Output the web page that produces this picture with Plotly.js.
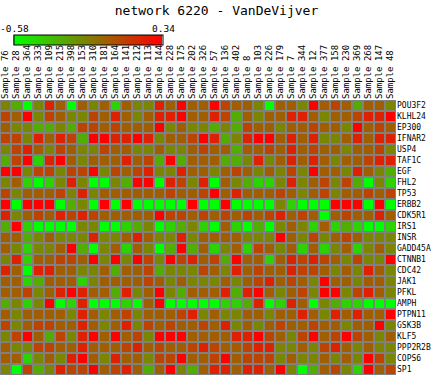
<!DOCTYPE html>
<html>
<head>
<meta charset="utf-8">
<script src="https://cdn.plot.ly/plotly-3.0.1.min.js"></script>
<style>html,body{margin:0;padding:0;background:#fff;}#chart{width:433px;height:376px;}</style>
</head>
<body>
<div id="chart"></div>
<script>
const samples = ["Sample 76","Sample 28","Sample 364","Sample 333","Sample 109","Sample 215","Sample 398","Sample 153","Sample 310","Sample 181","Sample 164","Sample 141","Sample 212","Sample 113","Sample 144","Sample 228","Sample 175","Sample 202","Sample 326","Sample 57","Sample 136","Sample 402","Sample 8","Sample 103","Sample 226","Sample 179","Sample 7","Sample 344","Sample 12","Sample 377","Sample 158","Sample 230","Sample 369","Sample 268","Sample 147","Sample 48"];
const genes = ["POU3F2","KLHL24","EP300","IFNAR2","USP4","TAF1C","EGF","FHL2","TP53","ERBB2","CDK5R1","IRS1","INSR","GADD45A","CTNNB1","CDC42","JAK1","PFKL","AMPH","PTPN11","GSK3B","KLF5","PPP2R2B","COPS6","SP1"];
const zmin = -0.58, zmax = 0.34;
const colorbarLabels = ["-0.58", "0.34"];

const POU3F2 = [-0.14,-0.28,-0.58,-0.14,0.22,0,-0.58,0,-0.14,0,-0.42,0,-0.14,-0.14,0.22,0,0.34,0,0,0.34,0.1,0,0,-0.14,-0.58,0,0,-0.14,0.34,0,0.1,0,-0.28,0,0,-0.14];
const KLHL24 = [0.1,0,0.34,-0.14,0.1,0,-0.14,-0.14,0.1,0,0.22,0,-0.14,0,0.22,0.22,0.34,0,0,0.22,0.1,-0.28,0,-0.14,0,0,0.22,0.22,0,-0.14,0,0,0.1,0.22,0.22,0.34];
const EP300 = [0,-0.14,-0.14,-0.28,-0.28,-0.14,-0.28,0.1,0.1,0,0.1,0,0,0,0.34,-0.14,0,-0.14,-0.14,-0.28,-0.14,-0.28,0.1,0,0,-0.14,0,0,0.1,0,0,-0.14,0.34,0,0.1,0];
const IFNAR2 = [0.1,0.1,-0.14,0.22,0,0.22,0.1,-0.28,0.34,0.34,0.22,0.22,0.34,0.22,-0.14,0,0,0.1,0.34,0.22,-0.28,-0.14,0.22,0.34,0.34,0,0.22,0,0.22,-0.14,-0.14,0,0.22,0,0.22,0.22];
const USP4 = [-0.14,0.1,0.22,0,-0.14,0.1,0,-0.14,-0.14,0.1,0,0,-0.14,-0.14,0,-0.14,-0.14,0,0.1,0,0,-0.28,0,0,0.1,0,0.22,0,0.1,0,0,-0.14,0,0,0.1,-0.14];
const TAF1C = [-0.28,0.1,0.34,-0.42,0.22,0.34,0,-0.14,0,0,0,0.22,0,0.1,-0.28,0.34,-0.28,0,0,0,-0.28,-0.28,-0.14,0.22,-0.14,0,0.22,0,0.22,0,-0.14,0,0,0.1,0.22,0.22];
const EGF = [0.34,0.34,-0.14,0.1,0.1,-0.14,0.1,0.1,0.34,-0.14,0.1,0,0.1,0.22,-0.14,-0.14,0.22,0,0,-0.14,0,0.1,0,-0.14,0,-0.14,0.1,-0.14,0.34,0,0,-0.14,0.22,0,-0.14,-0.28];
const FHL2 = [-0.14,0,-0.42,-0.58,-0.42,-0.14,0.22,-0.14,-0.58,-0.58,-0.14,-0.28,0.34,0.34,-0.58,0.22,0.1,-0.14,0.22,-0.58,0,-0.14,-0.28,-0.42,-0.42,-0.14,0.22,-0.14,0,0.1,-0.14,0.1,-0.28,-0.58,-0.14,-0.42];
const TP53 = [0.1,-0.14,0,0,0,0.1,-0.14,0.22,-0.14,0,0,0,0,0,0,0.1,0,0,0.1,0.34,0,0.22,0,0,0,0.1,0,-0.14,0,0.1,-0.14,0,0,0.1,0,0.1];
const ERBB2 = [0.34,-0.58,0.34,0.34,0.34,-0.58,-0.28,-0.14,-0.58,0.34,-0.58,0.34,-0.58,-0.58,-0.58,-0.58,-0.58,0.34,-0.58,-0.58,0.34,-0.58,-0.58,-0.58,-0.58,-0.14,-0.42,-0.58,-0.58,-0.58,0.34,0.34,0.34,-0.58,0.34,-0.58];
const CDK5R1 = [0.22,-0.14,0,0.1,0,0.22,0.1,0.22,0.1,0,0,0,0,0,0.34,0.1,0.1,0,0.1,0,0.1,0,0.1,0,0.1,0.22,0,0.1,0,-0.58,0,0.1,0,0,0.22,0];
const IRS1 = [-0.28,0.34,-0.42,-0.58,-0.58,-0.58,-0.58,-0.14,-0.14,-0.58,-0.58,-0.42,-0.28,-0.14,-0.58,-0.42,-0.28,-0.14,-0.42,-0.58,0,-0.42,-0.58,-0.28,-0.58,-0.14,0,-0.14,-0.42,0,-0.42,-0.28,-0.42,-0.58,-0.58,-0.42];
const INSR = [0,0,-0.28,-0.14,0,-0.14,-0.14,-0.14,0.22,-0.14,-0.14,0,0.22,0,-0.14,-0.14,0.22,-0.14,0,0,0,0,-0.14,-0.14,-0.14,0.34,0,-0.14,0.1,-0.14,0,0.1,0,-0.14,-0.14,-0.14];
const GADD45A = [0,-0.14,-0.42,-0.14,-0.14,0,0.34,-0.28,-0.58,-0.14,0,-0.42,0,-0.14,-0.58,-0.28,0.34,-0.28,0,-0.42,-0.14,0,-0.42,0.1,0,-0.14,0,-0.42,0,-0.42,-0.14,0,-0.42,-0.14,0,-0.14];
const CTNNB1 = [-0.14,0.22,-0.42,0,0,0.1,0.1,0,0.34,-0.14,0.34,-0.14,0.34,0.1,-0.14,0.34,0.1,0.22,0,0.1,-0.28,0.34,0,0,-0.42,0,0.22,0.1,0.22,0.1,0,-0.14,0.1,-0.14,-0.14,0.34];
const CDC42 = [0.22,0,-0.58,0.22,0.22,0,0,-0.14,-0.14,0,-0.28,0,0,0.1,-0.28,-0.14,-0.14,-0.14,0.1,0,-0.14,0.22,0,0.1,0,0,0.22,0.1,0.1,0,-0.14,0,-0.14,0.22,0,-0.14];
const JAK1 = [0,0,-0.42,-0.28,0,0,0,-0.42,-0.14,0,0,0,0,0.1,0,-0.14,0,-0.14,-0.14,-0.14,0,-0.14,0,0.1,0.22,0,0.1,0,-0.14,0.34,0,0,-0.14,0,0,-0.14];
const PFKL = [0,0,0.1,-0.14,0,0.22,0.34,0.22,0,0,-0.28,0.22,-0.14,0,0.34,-0.14,-0.28,0,0,0,0.22,-0.28,0.22,0.34,0,-0.14,0,0.1,-0.14,0.34,0.34,-0.14,0.1,0.22,0,-0.14];
const AMPH = [-0.28,-0.14,-0.42,-0.14,0.34,-0.58,-0.42,0.22,-0.58,-0.58,-0.58,-0.42,-0.58,0,0.34,-0.58,-0.58,-0.58,-0.58,-0.58,-0.42,-0.42,-0.28,0.22,-0.58,-0.42,0.22,0,-0.58,-0.14,-0.28,-0.42,-0.42,-0.58,-0.58,-0.58];
const PTPN11 = [0,-0.14,0,0,0,0,-0.14,0.22,0,-0.14,0,0.1,-0.14,0,0,0,0.1,0.22,-0.14,0,-0.14,-0.14,0,0,-0.14,0,0,0.22,0,-0.14,0.22,0,0.22,0,0,0.34];
const GSK3B = [0.1,-0.14,0,0.1,0.1,0,0,0.22,0,-0.14,0,0.22,-0.14,0.1,0,0.1,0,0,0.1,0,0.22,-0.14,0,-0.14,0,0.1,0,0,0.1,0,0,-0.14,0,0,0.34,-0.14];
const KLF5 = [-0.14,0.1,0.34,0,-0.28,0.1,-0.14,0.22,0.34,0,0.34,0,0.1,-0.14,0.34,0.34,0.34,0,0,0,0,0.22,0.22,0.34,0.1,0,-0.14,0.1,0.34,0,0.1,0.34,0.1,0,-0.14,0];
const PPP2R2B = [0,-0.14,-0.14,0.1,0.1,0,0,0.22,0,0,0,0.1,0.22,0,0.1,0,0,0.1,0.22,0.1,0,0,0.1,0.22,0.22,-0.14,-0.14,0,-0.14,0.1,0.22,0,-0.14,0,-0.14,-0.14];
const COPS6 = [0,0,-0.42,-0.14,0,-0.14,0.22,0.34,0,-0.14,0.22,0,0,-0.14,0.1,0.1,0.34,0,0,0.1,0.34,0,0.1,0.1,0.1,-0.14,0,-0.14,-0.14,0,-0.14,0,-0.14,0.34,0.1,-0.14];
const SP1 = [-0.14,-0.58,0.1,-0.28,-0.14,0.22,0.1,0.1,0.34,0,0.1,0.22,0,-0.28,0,0.34,-0.14,-0.28,0,0.22,0.22,0,0.22,0.22,0,0.34,-0.14,-0.58,-0.28,0,0.1,-0.14,-0.42,0.34,0,0.1];

const z = [POU3F2,KLHL24,EP300,IFNAR2,USP4,TAF1C,EGF,FHL2,TP53,ERBB2,CDK5R1,IRS1,INSR,GADD45A,CTNNB1,CDC42,JAK1,PFKL,AMPH,PTPN11,GSK3B,KLF5,PPP2R2B,COPS6,SP1];

const mono = "DejaVu Sans Mono, monospace";
const W = 433, H = 376;
const cbLeft = 14, cbLen = 149, cbTop = 35;

const trace = {
  type: 'heatmap',
  x: samples,
  y: genes,
  z: z,
  zmin: zmin,
  zmax: zmax,
  colorscale: [[0, 'rgb(0,255,0)'], [1, 'rgb(255,0,0)']],
  xgap: 2,
  ygap: 2,
  hoverinfo: 'skip',
  colorbar: {
    orientation: 'h',
    xref: 'container', yref: 'container',
    x: cbLeft / W, xanchor: 'left',
    y: 1 - cbTop / H, yanchor: 'top',
    len: cbLen, lenmode: 'pixels',
    thickness: 10, thicknessmode: 'pixels',
    outlinewidth: 1, outlinecolor: '#000',
    xpad: 0, ypad: 0,
    ticks: '',
    showticklabels: false
  }
};

const layout = {
  width: W, height: H,
  margin: {l: 0, r: 37, t: 100, b: 1, pad: 0},
  paper_bgcolor: '#fff',
  plot_bgcolor: '#808080',
  title: {
    text: 'network 6220 - VanDeVijver',
    font: {family: mono, size: 13, color: '#000'},
    x: 0.5, xref: 'container', xanchor: 'center',
    y: 1 - 10 / H, yref: 'container', yanchor: 'middle'
  },
  xaxis: {
    side: 'top', type: 'category', tickangle: -90,
    tickfont: {family: mono, size: 9, color: '#000'},
    ticks: '', showgrid: false, zeroline: false, showline: false
  },
  yaxis: {
    side: 'right', type: 'category', autorange: 'reversed',
    tickfont: {family: mono, size: 8, color: '#000'},
    ticks: '', showgrid: false, zeroline: false, showline: false
  },
  annotations: [
    {text: colorbarLabels[0], xref: 'paper', yref: 'paper', showarrow: false,
     x: (cbLeft) / (W - 37), xanchor: 'center', y: 1 + (100 - 29) / 275, yanchor: 'middle',
     font: {family: mono, size: 9.5, color: '#000'}},
    {text: colorbarLabels[1], xref: 'paper', yref: 'paper', showarrow: false,
     x: (cbLeft + cbLen) / (W - 37), xanchor: 'center', y: 1 + (100 - 29) / 275, yanchor: 'middle',
     font: {family: mono, size: 9.5, color: '#000'}}
  ],
  showlegend: false
};

Plotly.newPlot('chart', [trace], layout, {staticPlot: true, displayModeBar: false});
</script>
</body>
</html>
